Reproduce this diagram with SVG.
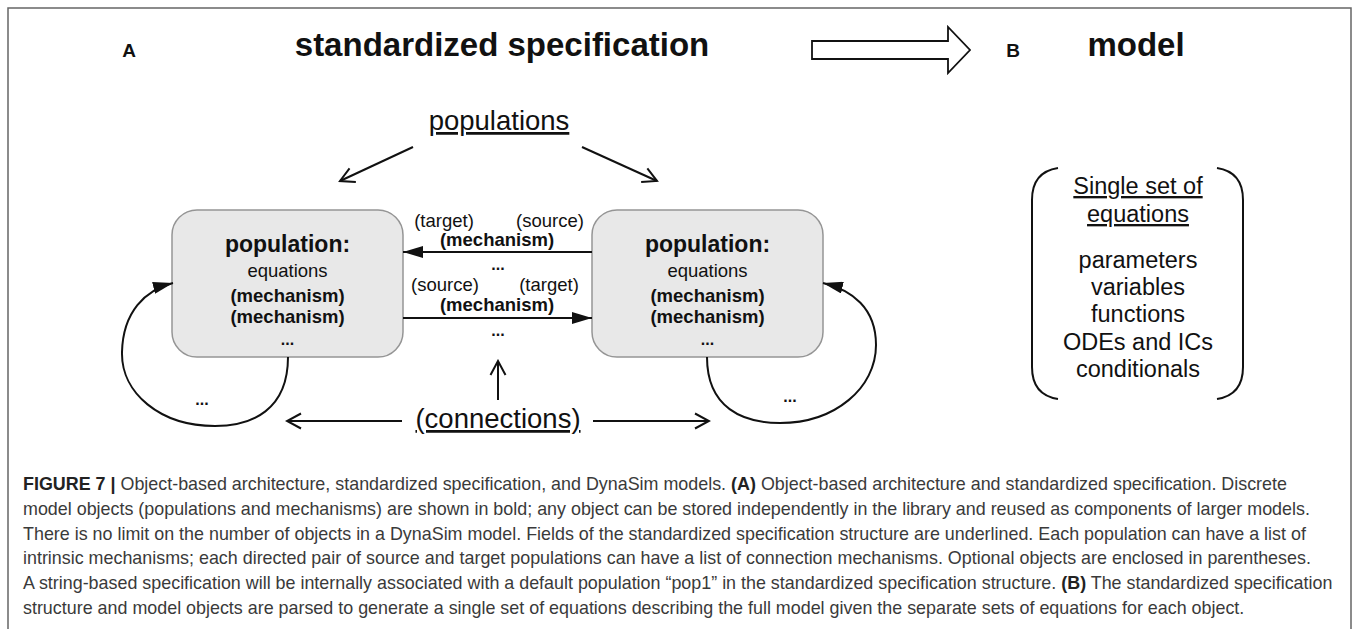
<svg xmlns="http://www.w3.org/2000/svg" width="1358" height="629" viewBox="0 0 1358 629">
<style>
text{font-family:"Liberation Sans",Arial,sans-serif;fill:#111}
.b{font-weight:bold}
.m{text-anchor:middle}
.u{text-decoration:underline}
.hd{font-size:33px;font-weight:bold}
.lbl{font-size:19px;font-weight:bold}
.big{font-size:27.5px}
.t18{font-size:18.5px}
.t23{font-size:23.5px}
.box{fill:#e8e8e8;stroke:#959595;stroke-width:1.5}
.ln{fill:none;stroke:#111;stroke-width:2}
.cap{font-size:17.9px;fill:#3a3a3a}
</style>
<defs>
<marker id="open" markerUnits="userSpaceOnUse" markerWidth="18" markerHeight="18" viewBox="0 0 18 18" refX="16" refY="9" orient="auto">
<path d="M2,1.5 L16,9 L2,16.5" fill="none" stroke="#111" stroke-width="2"/>
</marker>
<marker id="fill" markerUnits="userSpaceOnUse" markerWidth="20" markerHeight="12" viewBox="0 0 20 12" refX="20" refY="6" orient="auto">
<path d="M0,0 L20,6 L0,12 z" fill="#111"/>
</marker>
</defs>
<rect width="1358" height="629" fill="#fff"/>
<path d="M8,629 V8 H1351 V629" fill="none" stroke="#666" stroke-width="1.5"/>

<g id="header">
<text class="lbl m" x="129" y="57">A</text>
<text class="hd m" x="502" y="56">standardized specification</text>
<path d="M812,41 H948 V27 L970,50 L948,73 V59 H812 Z" fill="#fff" stroke="#111" stroke-width="1.8"/>
<text class="lbl m" x="1013" y="57">B</text>
<text class="hd m" x="1136" y="56">model</text>
</g>

<g id="populations-label">
<text class="big m u" x="499" y="130">populations</text>
</g>

<g id="pop-left">
<rect class="box" x="172" y="210" width="231" height="147" rx="25"/>
<text class="m b" x="287.5" y="252" font-size="23">population:</text>
<text class="m t18" x="287.5" y="277">equations</text>
<text class="m t18 b" x="287.5" y="302">(mechanism)</text>
<text class="m t18 b" x="287.5" y="323">(mechanism)</text>
<text class="m b" x="287.5" y="345" font-size="16">...</text>
</g>

<g id="pop-right">
<rect class="box" x="592" y="210" width="231" height="147" rx="25"/>
<text class="m b" x="707.5" y="252" font-size="23">population:</text>
<text class="m t18" x="707.5" y="277">equations</text>
<text class="m t18 b" x="707.5" y="302">(mechanism)</text>
<text class="m t18 b" x="707.5" y="323">(mechanism)</text>
<text class="m b" x="707.5" y="345" font-size="16">...</text>
</g>

<g id="mechanism-labels">
<text class="m t18" x="444" y="227">(target)</text>
<text class="m t18" x="550" y="227">(source)</text>
<text class="m t18 b" x="497" y="246">(mechanism)</text>
<text class="m b" x="498" y="270" font-size="16">...</text>
<text class="m t18" x="445" y="291">(source)</text>
<text class="m t18" x="549" y="291">(target)</text>
<text class="m t18 b" x="497" y="311">(mechanism)</text>
<text class="m b" x="498" y="336" font-size="16">...</text>
<text class="m b" x="202" y="405" font-size="16">...</text>
<text class="m b" x="790" y="402" font-size="16">...</text>
</g>

<g id="connections-label">
<text class="big m u" x="498" y="428">(connections)</text>
</g>

<g id="connectors">
<line class="ln" x1="413" y1="147" x2="340" y2="181" marker-end="url(#open)"/>
<line class="ln" x1="582" y1="147" x2="657" y2="181" marker-end="url(#open)"/>
<line class="ln" x1="592" y1="252" x2="403" y2="252" marker-end="url(#fill)"/>
<line class="ln" x1="403" y1="318" x2="592" y2="318" marker-end="url(#fill)"/>
<path class="ln" d="M288,357 C288,410 252,426 215,426 C160,426 121,393 122,352 C123,312 145,290 173,283" marker-end="url(#fill)"/>
<path class="ln" d="M707,357 C707,408 743,423 780,423 C835,423 876,388 876,345 C876,308 852,290 823,283" marker-end="url(#fill)"/>
<line class="ln" x1="402" y1="421" x2="287" y2="421" marker-end="url(#open)"/>
<line class="ln" x1="593" y1="421" x2="709" y2="421" marker-end="url(#open)"/>
<line class="ln" x1="498" y1="400" x2="498" y2="361" marker-end="url(#open)"/>
</g>

<g id="model-equations">
<path class="ln" d="M1058,168 Q1032,172 1032,200 L1032,367 Q1032,395 1058,399"/>
<path class="ln" d="M1217,168 Q1243,172 1243,200 L1243,367 Q1243,395 1217,399"/>
<text class="m t23 u" x="1138" y="194">Single set of</text>
<text class="m t23 u" x="1138" y="222">equations</text>
<text class="m t23" x="1138" y="268">parameters</text>
<text class="m t23" x="1138" y="295">variables</text>
<text class="m t23" x="1138" y="322">functions</text>
<text class="m t23" x="1138" y="350">ODEs and ICs</text>
<text class="m t23" x="1138" y="377">conditionals</text>
</g>

<g id="caption">
<text class="cap" x="23" y="490"><tspan font-weight="bold" fill="#222">FIGURE 7 |</tspan> Object-based architecture, standardized specification, and DynaSim models. <tspan font-weight="bold" fill="#222">(A)</tspan> Object-based architecture and standardized specification. Discrete</text>
<text class="cap" x="23" y="515">model objects (populations and mechanisms) are shown in bold; any object can be stored independently in the library and reused as components of larger models.</text>
<text class="cap" x="23" y="540">There is no limit on the number of objects in a DynaSim model. Fields of the standardized specification structure are underlined. Each population can have a list of</text>
<text class="cap" x="23" y="564">intrinsic mechanisms; each directed pair of source and target populations can have a list of connection mechanisms. Optional objects are enclosed in parentheses.</text>
<text class="cap" x="23" y="589">A string-based specification will be internally associated with a default population “pop1” in the standardized specification structure. <tspan font-weight="bold" fill="#222">(B)</tspan> The standardized specification</text>
<text class="cap" x="23" y="614">structure and model objects are parsed to generate a single set of equations describing the full model given the separate sets of equations for each object.</text>
</g>
</svg>
